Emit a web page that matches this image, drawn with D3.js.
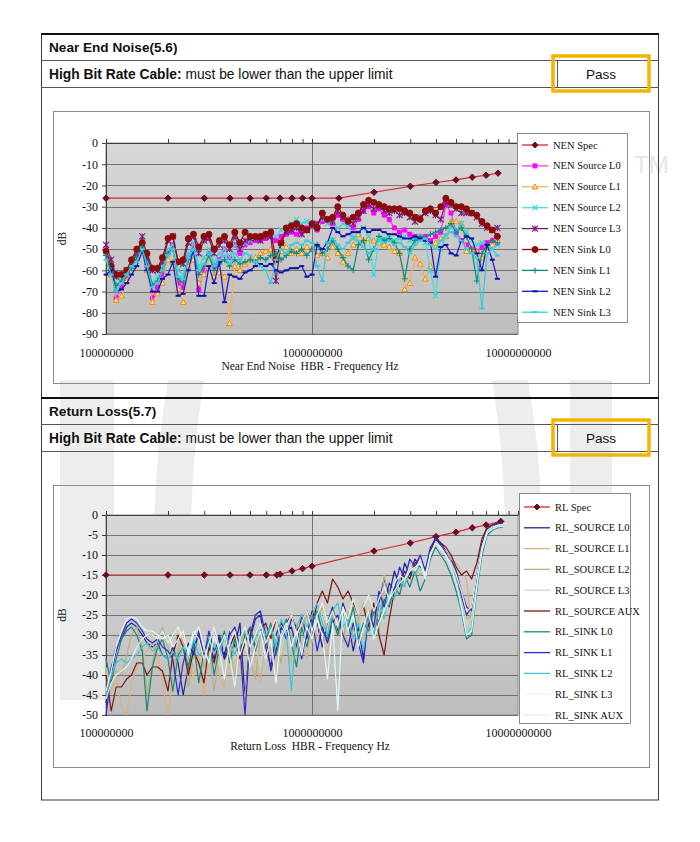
<!DOCTYPE html>
<html>
<head>
<meta charset="utf-8">
<script src="https://cdn.jsdelivr.net/npm/d3@7"></script>
<style>
  body { margin: 0; background: #fff; }
  svg { display: block; }
</style>
</head>
<body>
<svg id="page" width="700" height="842"></svg>
<script>
// ---- data ----
// measurement frequencies, MHz
const freqMHz = [100, 106, 112, 119, 126, 133, 141, 150, 158, 168, 178, 188, 200, 211, 224, 237, 251, 266, 282, 299,
  316, 335, 355, 376, 398, 422, 447, 473, 501, 531, 562, 596, 631, 668, 708, 750, 794, 841, 891, 944,
  1000, 1059, 1122, 1189, 1259, 1334, 1413, 1496, 1585, 1679, 1778, 1884, 1995, 2113, 2239, 2371, 2512, 2661, 2818, 2985,
  3162, 3350, 3548, 3758, 3981, 4217, 4467, 4732, 5012, 5309, 5623, 5957, 6310, 6683, 7079, 7499, 7943, 8414];

const xTickLabels = [1e8, 1e9, 1e10];
const nenTicks = [0, -10, -20, -30, -40, -50, -60, -70, -80, -90];
const rlTicks = [0, -5, -10, -15, -20, -25, -30, -35, -40, -45, -50];

// Near End Noise (dB)
const nenSpecFreq = [100, 200, 300, 400, 500, 600, 700, 800, 900, 1000, 1350, 2000, 3000, 4000, 5000, 6000, 7000, 8000];
const nenSpec = [-26, -26, -26, -26, -26, -26, -26, -26, -26, -26, -26, -23.2, -20.4, -18.6, -17.4, -16.1, -15.2, -14.2];
const nenSourceL0 = [-50, -60, -73, -68, -64, -58, -53, -48, -58, -73, -68, -62, -52, -48, -66, -68, -54, -48, -69, -60,
  -52, -58, -55, -50, -54, -48, -52, -48, -47, -46, -46, -45, -44, -46, -44, -43, -42, -43, -42, -40,
  -39, -41, -37, -36, -38, -34, -36, -38, -40, -36, -32, -30, -33, -31, -34, -36, -40, -42, -41, -43,
  -44, -45, -44, -46, -44, -42, -29, -33, -42, -46, -48, -50, -51, -49, -47, -46, -47];
const nenSourceL1 = [-52, -62, -74, -72, -65, -58, -54, -52, -60, -75, -71, -66, -55, -56, -69, -75, -58, -55, -66, -62,
  -54, -63, -61, -63, -85, -58, -60, -57, -55, -54, -52, -51, -50, -52, -51, -49, -52, -50, -52, -49,
  -50, -53, -52, -54, -49, -52, -56, -52, -48, -43, -46, -45, -46, -47, -48, -49, -51, -52, -69, -66,
  -54, -57, -64, -58, -47, -45, -44, -37, -37, -38, -51, -50, -51, -54, -49, -48, -46];
const nenSourceL2 = [-50, -60, -68, -65, -60, -57, -52, -48, -55, -66, -63, -58, -50, -48, -60, -62, -52, -47, -58, -54,
  -50, -56, -52, -50, -54, -48, -50, -47, -46, -45, -44, -43, -42, -44, -41, -40, -38, -36, -38, -37,
  -40, -38, -36, -38, -37, -40, -38, -39, -45, -42, -40, -44, -62, -46, -45, -44, -46, -45, -44, -46,
  -45, -44, -47, -60, -72, -50, -44, -40, -41, -38, -42, -46, -48, -47, -49, -50, -48];
const nenSourceL3 = [-48, -55, -63, -62, -60, -57, -52, -44, -54, -60, -60, -56, -46, -44, -56, -57, -47, -44, -52, -46,
  -45, -52, -48, -46, -50, -44, -50, -46, -45, -45, -46, -44, -44, -65, -47, -42, -41, -40, -43, -41,
  -39, -38, -35, -36, -37, -32, -35, -36, -38, -35, -32, -29, -31, -30, -32, -33, -32, -34, -33, -35,
  -37, -35, -33, -32, -34, -36, -28, -29, -31, -33, -33, -33, -35, -38, -40, -41, -40];
const nenSinkL0 = [-51, -58, -62, -62, -60, -55, -50, -47, -52, -59, -59, -54, -45, -44, -56, -55, -45, -43, -49, -44,
  -43, -50, -46, -44, -48, -42, -47, -42, -44, -44, -44, -43, -42, -55, -47, -40, -39, -38, -40, -41,
  -38, -40, -33, -36, -35, -30, -34, -37, -35, -33, -29, -27, -28, -29, -30, -31, -31, -31, -32, -33,
  -35, -36, -32, -31, -33, -30, -26, -28, -30, -30, -31, -33, -34, -37, -39, -41, -44];
const nenSinkL1 = [-53, -60, -67, -65, -62, -59, -54, -49, -57, -67, -65, -60, -52, -50, -64, -66, -55, -51, -62, -58,
  -53, -60, -57, -55, -58, -55, -57, -56, -55, -56, -54, -55, -53, -52, -55, -53, -51, -52, -50, -53,
  -50, -48, -52, -50, -46, -50, -54, -58, -60, -48, -46, -55, -50, -44, -46, -45, -47, -52, -64, -50,
  -46, -44, -45, -43, -42, -41, -40, -38, -42, -40, -44, -50, -65, -52, -48, -46, -47];
const nenSinkL2 = [-62, -60, -70, -69, -66, -62, -58, -51, -60, -70, -70, -64, -62, -56, -72, -71, -60, -50, -72, -72,
  -58, -66, -56, -75, -62, -63, -64, -61, -60, -58, -57, -58, -57, -60, -61, -60, -59, -59, -58, -63,
  -62, -48, -50, -47, -40, -42, -44, -43, -42, -42, -40, -42, -41, -41, -42, -43, -43, -44, -45, -45,
  -44, -45, -46, -47, -63, -49, -48, -52, -53, -46, -44, -45, -52, -60, -48, -55, -64];
const nenSinkL3 = [-55, -62, -70, -66, -62, -58, -56, -50, -58, -68, -66, -60, -53, -50, -63, -64, -54, -50, -60, -57,
  -52, -58, -55, -53, -57, -52, -55, -52, -53, -56, -58, -60, -66, -55, -50, -52, -48, -47, -48, -46,
  -47, -58, -65, -47, -45, -48, -50, -47, -44, -46, -49, -52, -50, -45, -47, -46, -48, -47, -49, -52,
  -48, -46, -45, -48, -50, -46, -43, -42, -44, -46, -50, -52, -54, -78, -52, -50, -53];

// Return Loss (dB)
const rlSpecFreq = [100, 200, 300, 400, 500, 600, 675, 700, 800, 900, 1000, 2000, 3000, 4000, 5000, 6000, 7000, 8250];
const rlSpec = [-15, -15, -15, -15, -15, -15, -15, -14.8, -14, -13.4, -12.8, -9, -7, -5.4, -4.3, -3.2, -2.5, -1.6];
const rlSourceL0 = [-47, -38, -33, -31, -28, -27, -28, -30, -32, -33, -32, -35, -36, -33, -37, -45, -38, -33, -30, -35,
  -32, -36, -30, -35, -29, -33, -27, -46, -31, -26, -25, -33, -38, -30, -27, -29, -28, -33, -25, -31,
  -24, -27, -33, -27, -23, -29, -22, -26, -34, -28, -36, -25, -30, -22, -16, -20, -14, -18, -12, -15,
  -11, -13, -14, -9, -5.5, -7, -9, -11, -14, -19, -23, -24, -15, -7, -3.5, -2.5, -2, -2];
const rlSourceL1 = [-38, -44, -40, -48, -50, -42, -38, -36, -34, -32, -35, -42, -50, -40, -33, -31, -36, -41, -35, -45,
  -36, -32, -40, -43, -34, -31, -38, -46, -33, -36, -42, -30, -34, -40, -29, -33, -37, -27, -32, -36,
  -26, -31, -28, -35, -25, -30, -27, -33, -29, -26, -31, -24, -28, -25, -19, -22, -17, -20, -15, -14,
  -12, -14, -13, -10, -7, -8, -9, -11, -12, -14, -16, -28, -18, -8, -4, -3, -2.6, -2.5];
const rlSourceL2 = [-42, -40, -39, -40, -35, -30, -28, -33, -45, -37, -31, -28, -33, -38, -34, -30, -43, -36, -31, -38,
  -34, -44, -35, -30, -33, -40, -32, -29, -36, -41, -30, -28, -34, -31, -37, -27, -30, -34, -28, -25,
  -32, -27, -23, -30, -25, -28, -32, -24, -29, -26, -22, -27, -24, -30, -15, -22, -19, -17, -16, -14,
  -13, -15, -14, -10, -7, -8.5, -10, -13, -16, -21, -26, -25, -17, -9, -4.5, -3.2, -2.8, -2.6];
const rlSourceL3 = [-40, -37, -34, -30, -27, -26, -27, -28, -30, -31, -30, -33, -36, -31, -29, -34, -31, -37, -32, -29,
  -35, -31, -38, -33, -28, -36, -31, -34, -28, -32, -38, -29, -26, -31, -35, -28, -24, -30, -27, -33,
  -26, -29, -24, -28, -31, -25, -29, -23, -27, -30, -26, -24, -29, -27, -23, -20, -18, -16, -17, -13,
  -14, -12, -15, -9.5, -7, -8, -10, -12, -15, -20, -27, -26, -17, -9, -4.5, -3.3, -2.9, -2.7];
const rlSourceAux = [-40, -49, -43, -43, -41, -40, -37, -37, -40, -38, -38, -39, -44, -35, -30, -33, -40, -34, -37, -42,
  -33, -37, -31, -36, -33, -30, -36, -32, -28, -33, -29, -27, -31, -26, -30, -27, -25, -29, -27, -24,
  -28, -22, -19, -22, -16, -18, -21, -19, -22, -25, -23, -28, -22, -30, -35, -26, -19, -17, -14, -16,
  -12, -11, -14, -9, -6, -7, -8, -10, -13, -15, -14, -16, -12, -6, -3, -2.5, -2, -1.8];
const rlSinkL0 = [-36, -42, -36, -31, -29, -28, -30, -34, -49, -38, -33, -31, -36, -44, -35, -33, -38, -32, -42, -34,
  -31, -40, -33, -29, -37, -31, -35, -30, -28, -34, -29, -32, -27, -35, -30, -26, -32, -38, -28, -33,
  -27, -24, -29, -31, -26, -30, -24, -28, -23, -31, -27, -29, -24, -27, -21, -23, -18, -20, -15, -18,
  -14, -19, -16, -11, -8, -10, -12, -15, -19, -24, -31, -30, -19, -10, -5, -3.8, -3.2, -3];
const rlSinkL1 = [-50, -40, -34, -30, -27, -26, -27, -29, -31, -32, -31, -33, -34, -36, -45, -37, -32, -35, -29, -36,
  -29, -34, -31, -36, -30, -28, -33, -50, -30, -25, -24, -30, -39, -34, -28, -31, -26, -28, -36, -29,
  -26, -34, -28, -32, -27, -25, -30, -33, -27, -32, -37, -24, -28, -19, -23, -17, -19, -13, -16, -11,
  -13, -10, -14, -8, -6, -7.5, -9.5, -12, -15, -20, -25, -23, -16, -8, -4, -3, -2.2, -2];
const rlSinkL2 = [-45, -40, -37, -36, -37, -36, -35, -33, -32, -34, -33, -35, -36, -34, -36, -33, -35, -31, -35, -34,
  -36, -32, -35, -30, -32, -35, -31, -29, -33, -31, -27, -30, -28, -33, -26, -29, -44, -28, -25, -28,
  -25, -22, -27, -30, -24, -22, -28, -26, -31, -27, -34, -25, -30, -22, -26, -19, -21, -16, -18, -13,
  -15, -12, -16, -10, -7, -8.5, -10, -13, -17, -24, -30, -28, -18, -9, -4.5, -3.5, -3, -2.8];
const rlSinkL3 = [-44, -39, -33, -29, -26, -25.5, -26, -28, -29, -29, -30, -31, -30, -33, -31, -29, -35, -30, -28, -33,
  -37, -30, -34, -41, -32, -29, -35, -31, -38, -33, -29, -36, -31, -42, -30, -27, -33, -29, -35, -28,
  -31, -26, -30, -41, -27, -49, -23, -29, -25, -33, -28, -24, -31, -27, -24, -21, -19, -17, -16, -14,
  -13, -12, -16, -10, -7, -8.5, -10, -13, -17, -23, -30, -29, -18, -9, -4.5, -3.5, -3, -2.8];
const rlSinkAux = [-46, -42, -40, -39, -38, -36, -33, -31, -30, -30, -31, -29, -32, -30, -28, -31, -34, -29, -31, -36,
  -32, -28, -33, -30, -35, -43, -31, -28, -33, -30, -27, -32, -29, -26, -31, -28, -25, -30, -27, -24,
  -29, -25, -22, -27, -24, -28, -23, -26, -21, -25, -23, -20, -24, -21, -18, -21, -17, -15, -16, -13,
  -14, -11, -15, -9.5, -7, -8, -10, -12, -15, -19, -24, -23, -15, -8, -4, -3, -2.6, -2.4];

// ---- drawing ----
const SANS = 'Arial, "Liberation Sans", sans-serif';
const SERIF = '"Times New Roman", "Liberation Serif", serif';

const svg = d3.select('#page');
const defs = svg.append('defs');
const grad = defs.append('linearGradient').attr('id', 'plotBg')
  .attr('x1', 0).attr('y1', 0).attr('x2', 0).attr('y2', 1);
grad.append('stop').attr('offset', '0%').attr('stop-color', '#d8d8d8');
grad.append('stop').attr('offset', '100%').attr('stop-color', '#bdbdbd');

// faint watermark behind the page
const wm = svg.append('g').attr('fill', '#ededed');
wm.append('path').attr('d', 'M60,380 L114,380 L114,700 L60,700 Z');
wm.append('path').attr('d', 'M168,380 L204,380 Q178,540 204,700 L168,700 Q140,540 168,380 Z');
wm.append('path').attr('d', 'M492,380 L528,380 Q556,540 528,700 L492,700 Q518,540 492,380 Z');
wm.append('path').attr('d', 'M570,380 L612,380 L612,700 L570,700 Z');
wm.append('text').attr('x', 634).attr('y', 173).attr('font-family', SANS)
  .attr('font-size', 24).attr('fill', '#e6e6e6').text('TM');

// table frame
svg.append('rect').attr('x', 41.5).attr('y', 34).attr('width', 617).attr('height', 766)
  .attr('fill', 'none').attr('stroke', '#3a3a3a');

function drawSection(top, title) {
  const g = svg.append('g');
  g.append('line').attr('x1', 41).attr('x2', 659).attr('y1', top).attr('y2', top)
    .attr('stroke', '#111').attr('stroke-width', 2.2);
  g.append('text').attr('x', 49).attr('y', top + 18).attr('font-family', SANS)
    .attr('font-size', 13.6).attr('font-weight', 'bold').attr('fill', '#111').text(title);
  [top + 26, top + 53].forEach(yy => {
    g.append('line').attr('x1', 41).attr('x2', 659).attr('y1', yy + 0.5).attr('y2', yy + 0.5)
      .attr('stroke', '#555');
  });
  const sub = g.append('text').attr('x', 49).attr('y', top + 45).attr('font-family', SANS)
    .attr('font-size', 13.8).attr('fill', '#111');
  sub.append('tspan').attr('font-weight', 'bold').text('High Bit Rate Cable:');
  sub.append('tspan').text(' must be lower than the upper limit');
  g.append('line').attr('x1', 557.5).attr('x2', 557.5).attr('y1', top + 26).attr('y2', top + 53)
    .attr('stroke', '#555');
  g.append('text').attr('x', 601).attr('y', top + 45).attr('text-anchor', 'middle')
    .attr('font-family', SANS).attr('font-size', 13.6).attr('fill', '#111').text('Pass');
  g.append('rect').attr('x', 553).attr('y', top + 22).attr('width', 96).attr('height', 35)
    .attr('fill', 'none').attr('stroke', '#f5b400').attr('stroke-width', 3.5);
}

function markerPath(type, s) {
  switch (type) {
    case 'diamond': return `M0,${-s}L${s},0L0,${s}L${-s},0Z`;
    case 'square': return `M${-s},${-s}H${s}V${s}H${-s}Z`;
    case 'triangle': return `M0,${-s}L${s},${s * 0.8}L${-s},${s * 0.8}Z`;
    case 'x': return `M${-s},${-s}L${s},${s}M${-s},${s}L${s},${-s}`;
    case 'star': return `M${-s},${-s}L${s},${s}M${-s},${s}L${s},${-s}M0,${-s}V${s}`;
    case 'circle': return `M${s},0A${s},${s} 0 1,1 ${-s},0A${s},${s} 0 1,1 ${s},0Z`;
    case 'plus': return `M${-s},0H${s}M0,${-s}V${s}`;
    case 'dash': return `M${-s},0H${s}`;
    default: return null;
  }
}

function drawChart(c) {
  const x = d3.scaleLog().domain([1e8, 1e10]).range([c.px0, c.px1]);
  const y = d3.scaleLinear().domain([c.ticks[c.ticks.length - 1], 0]).range([c.py1, c.py0]);
  const g = svg.append('g');

  g.append('rect').attr('x', 53.5).attr('y', c.boxTop + 0.5).attr('width', 596)
    .attr('height', c.boxBottom - c.boxTop).attr('fill', 'none').attr('stroke', '#8a8a8a');

  g.append('rect').attr('x', c.px0).attr('y', c.py0).attr('width', c.px1 - c.px0)
    .attr('height', c.py1 - c.py0).attr('fill', 'url(#plotBg)').attr('stroke', '#8a8a8a');

  // horizontal gridlines + major vertical at 1 GHz
  g.append('g').selectAll('line').data(c.ticks.slice(1)).join('line')
    .attr('x1', c.px0).attr('x2', c.px1)
    .attr('y1', d => Math.round(y(d)) + 0.5).attr('y2', d => Math.round(y(d)) + 0.5)
    .attr('stroke', '#5a5a5a').attr('stroke-width', 0.8);
  g.append('line').attr('x1', Math.round(x(1e9)) + 0.5).attr('x2', Math.round(x(1e9)) + 0.5)
    .attr('y1', c.py0).attr('y2', c.py1).attr('stroke', '#5a5a5a').attr('stroke-width', 0.8);

  // top axis with log minor ticks
  const top = g.append('g').attr('transform', `translate(0,${c.py0})`)
    .call(d3.axisTop(x).tickValues(x.ticks()).tickSize(4).tickSizeOuter(0).tickFormat(''));
  top.select('.domain').attr('stroke', '#404040');
  top.selectAll('line').attr('stroke', '#404040');

  // left axis
  const left = g.append('g').attr('transform', `translate(${c.px0},0)`)
    .call(d3.axisLeft(y).tickValues(c.ticks).tickSize(4).tickSizeOuter(0).tickPadding(4)
      .tickFormat(d => (d === 0 ? '0' : String(d))));
  left.attr('font-family', SERIF).attr('font-size', 12);
  left.select('.domain').attr('stroke', '#404040');
  left.selectAll('line').attr('stroke', '#404040');
  left.selectAll('text').attr('fill', '#111');

  // bottom labels
  const bottom = g.append('g').attr('transform', `translate(0,${c.py1})`)
    .call(d3.axisBottom(x).tickValues(xTickLabels).tickSize(0).tickPadding(c.labelPad)
      .tickFormat(d3.format('d')));
  bottom.attr('font-family', SERIF).attr('font-size', 12);
  bottom.select('.domain').remove();
  bottom.selectAll('text').attr('fill', '#111');

  g.append('text').attr('x', 310).attr('y', c.titleY).attr('text-anchor', 'middle')
    .attr('font-family', SERIF).attr('font-size', 11.5).attr('fill', '#111')
    .style('white-space', 'pre').text(c.xTitle);
  g.append('text').attr('transform', `translate(66,${(c.py0 + c.py1) / 2}) rotate(-90)`)
    .attr('text-anchor', 'middle').attr('font-family', SERIF).attr('font-size', 11.5)
    .attr('fill', '#111').text('dB');

  // series
  const clipId = `clip${c.py0}`;
  defs.append('clipPath').attr('id', clipId).append('rect')
    .attr('x', c.px0 - 4).attr('y', c.py0 - 4).attr('width', c.px1 - c.px0 + 8).attr('height', c.py1 - c.py0 + 8);
  const plot = g.append('g').attr('clip-path', `url(#${clipId})`);
  const line = d3.line().x(d => x(d[0] * 1e6)).y(d => y(d[1]));

  c.series.forEach(s => {
    const f = s.freq || freqMHz;
    const pts = s.values.map((v, i) => [f[i], v]);
    const sg = plot.append('g');
    sg.append('path').datum(pts).attr('d', line).attr('fill', 'none')
      .attr('stroke', s.line).attr('stroke-width', s.width || 1.2).attr('stroke-linejoin', 'round');
    if (s.marker) {
      sg.selectAll('path.m').data(pts).join('path').attr('class', 'm')
        .attr('transform', d => `translate(${x(d[0] * 1e6)},${y(d[1])})`)
        .attr('d', markerPath(s.marker, s.size))
        .attr('fill', s.fill || 'none').attr('stroke', s.mstroke || s.line)
        .attr('stroke-width', s.mwidth || 1);
    }
  });

  // legend
  const L = c.legend;
  const lg = g.append('g');
  lg.append('rect').attr('x', L.x + 0.5).attr('y', L.y + 0.5).attr('width', L.w).attr('height', L.h)
    .attr('fill', '#fff').attr('stroke', '#8a8a8a');
  const items = lg.selectAll('g.item').data(c.series).join('g').attr('class', 'item')
    .attr('transform', (d, i) => `translate(${L.x + 5},${L.first + i * L.step})`);
  items.append('line').attr('x1', 0).attr('x2', 26).attr('stroke', d => d.line).attr('stroke-width', 1.3);
  items.filter(d => d.marker).append('path').attr('transform', 'translate(13,0)')
    .attr('d', d => markerPath(d.marker, Math.min(d.size, 3)))
    .attr('fill', d => d.fill || 'none').attr('stroke', d => d.mstroke || d.line)
    .attr('stroke-width', d => d.mwidth || 1);
  items.append('text').attr('x', 31).attr('y', 3.5).attr('font-family', SERIF)
    .attr('font-size', L.font).attr('fill', '#111').text(d => d.name);
}

drawSection(34, 'Near End Noise(5.6)');
drawSection(398, 'Return Loss(5.7)');

drawChart({
  boxTop: 111, boxBottom: 383,
  px0: 106, px1: 518, py0: 143, py1: 334,
  ticks: nenTicks, labelPad: 14, titleY: 370,
  xTitle: 'Near End Noise  HBR - Frequency Hz',
  legend: { x: 517, y: 133, w: 110, h: 189, first: 145, step: 20.9, font: 10.5 },
  series: [
    { name: 'NEN Spec', freq: nenSpecFreq, values: nenSpec, line: '#d42a2a', marker: 'diamond', size: 3.2, fill: '#6e0b26', mstroke: '#6e0b26' },
    { name: 'NEN Source L0', values: nenSourceL0, line: '#ff33ff', marker: 'square', size: 2, fill: '#ff00ff', mstroke: '#ff00ff' },
    { name: 'NEN Source L1', values: nenSourceL1, line: '#f5b060', marker: 'triangle', size: 2.8, fill: '#ffe0b0', mstroke: '#f08c00' },
    { name: 'NEN Source L2', values: nenSourceL2, line: '#44dde0', marker: 'x', size: 2.5, mstroke: '#33d6dc', mwidth: 1.2 },
    { name: 'NEN Source L3', values: nenSourceL3, line: '#7d1a78', marker: 'star', size: 3, mstroke: '#7d1a78', mwidth: 1.1 },
    { name: 'NEN Sink L0', values: nenSinkL0, line: '#8c0a0a', marker: 'circle', size: 3, fill: '#8c0a0a', mstroke: '#8c0a0a' },
    { name: 'NEN Sink L1', values: nenSinkL1, line: '#128a7a', marker: 'plus', size: 3, mstroke: '#128a7a', mwidth: 1.1 },
    { name: 'NEN Sink L2', values: nenSinkL2, line: '#1818c8', marker: 'dash', size: 2.5, mstroke: '#1010a0', mwidth: 2 },
    { name: 'NEN Sink L3', values: nenSinkL3, line: '#36cdd6', marker: 'dash', size: 2.5, mstroke: '#36cdd6', mwidth: 2 }
  ]
});

drawChart({
  boxTop: 485, boxBottom: 767,
  px0: 106, px1: 518, py0: 515, py1: 715,
  ticks: rlTicks, labelPad: 13, titleY: 750,
  xTitle: 'Return Loss  HBR - Frequency Hz',
  legend: { x: 519, y: 493, w: 111, h: 230, first: 507, step: 20.8, font: 10.5 },
  series: [
    { name: 'RL Spec', freq: rlSpecFreq, values: rlSpec, line: '#d42a2a', marker: 'diamond', size: 3.2, fill: '#6e0b26', mstroke: '#6e0b26' },
    { name: 'RL_SOURCE L0', values: rlSourceL0, line: '#24248e' },
    { name: 'RL_SOURCE L1', values: rlSourceL1, line: '#d8b37c' },
    { name: 'RL_SOURCE L2', values: rlSourceL2, line: '#b4b27e' },
    { name: 'RL_SOURCE L3', values: rlSourceL3, line: '#cdd5c8' },
    { name: 'RL_SOURCE AUX', values: rlSourceAux, line: '#7e1414' },
    { name: 'RL_SINK L0', values: rlSinkL0, line: '#17877a' },
    { name: 'RL_SINK L1', values: rlSinkL1, line: '#2a2ad0' },
    { name: 'RL_SINK L2', values: rlSinkL2, line: '#3cc6d8' },
    { name: 'RL_SINK L3', values: rlSinkL3, line: '#e2f8f8' },
    { name: 'RL_SINK AUX', values: rlSinkAux, line: '#e4f0e2' }
  ]
});
</script>
</body>
</html>
